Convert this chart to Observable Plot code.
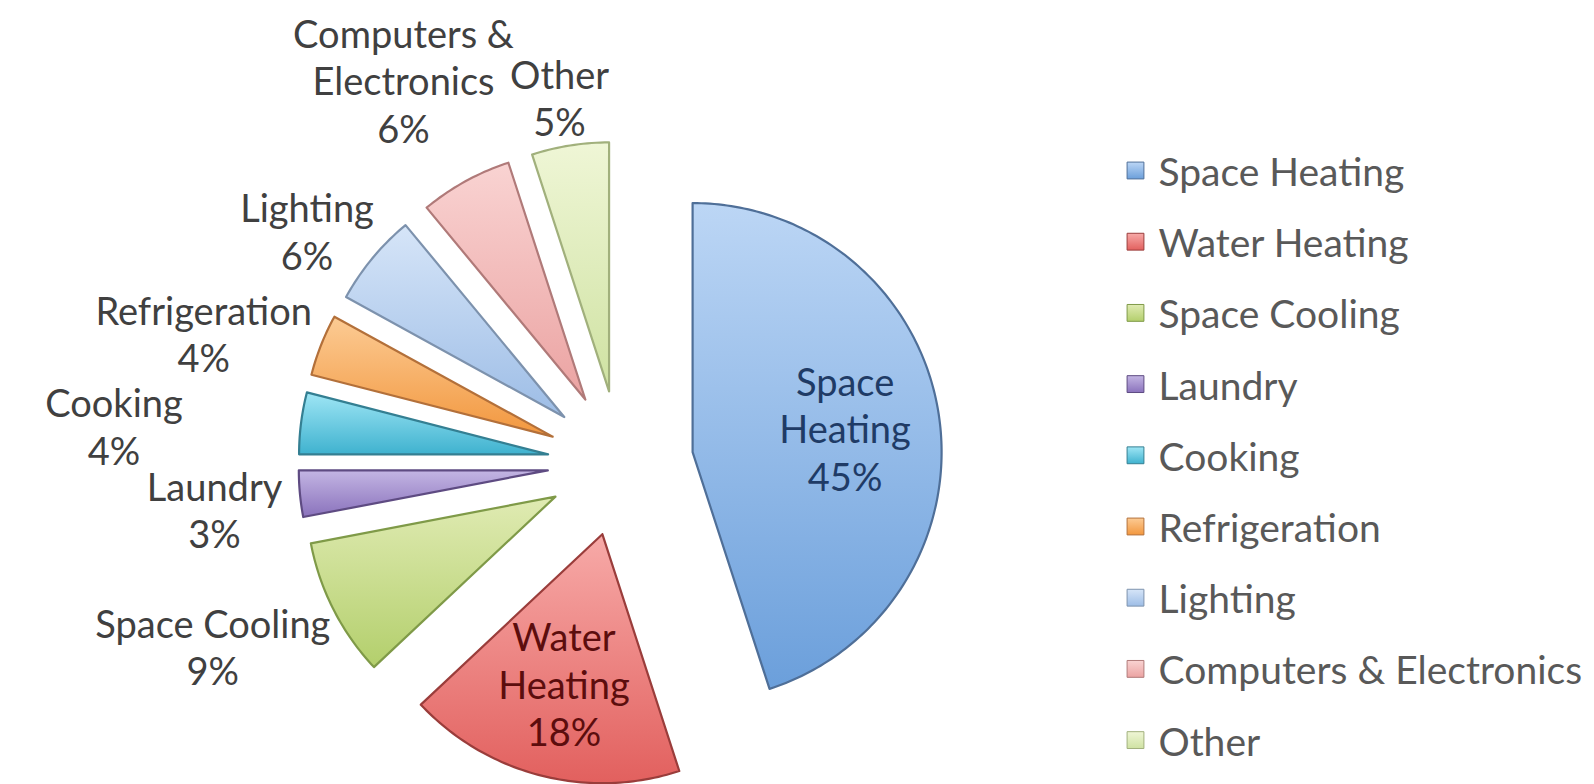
<!DOCTYPE html>
<html>
<head>
<meta charset="utf-8">
<script src="https://cdn.jsdelivr.net/npm/d3@7"></script>
<script src="https://cdn.jsdelivr.net/npm/@observablehq/plot@0.6"></script>
<style>
  html, body { margin: 0; padding: 0; background: #ffffff; }
  #chart { width: 1594px; height: 784px; }
</style>
</head>
<body>
<div id="chart"></div>
<script>
// ---- data ----
const categories = ["Space Heating", "Water Heating", "Space Cooling", "Laundry", "Cooking",
                    "Refrigeration", "Lighting", "Computers & Electronics", "Other"];
const shares = [45, 18, 9, 3, 4, 4, 6, 6, 5];

// ---- styles (gradient top, gradient bottom, outline, inside-label colour) ----
const gradTop    = ["#bcd6f5", "#f7aaa8", "#e0ebb3", "#c3b5e3", "#9fe6f5", "#fccb94", "#d6e5f8", "#f9d3d2", "#eff6d6"];
const gradBottom = ["#6b9fdb", "#e2605e", "#b3cf6c", "#8a72bc", "#3fb2cf", "#f2973e", "#9dbde6", "#eba3a2", "#cfe2a2"];
const outline    = ["#4f6f98", "#9a3d3b", "#7f9a48", "#5e4b82", "#347f92", "#b3703a", "#7d92ad", "#b07a79", "#a1b07c"];
const insideInk  = ["#1f3b66", "#5c0d0d"];

// ---- layout ----
const W = 1594, H = 784;
const cx = 620, cy = 463, R = 249, explode = 73;
const fontSize = 38, lineEm = 1.25, legendFont = 39;
const lh = fontSize * lineEm;
const fontFamily = "Lato, 'Open Sans', 'Noto Sans', sans-serif";
const legendX = 1135, legendTextX = 1158, legendTop = 173, legendStep = 71.2;
const pad = 6, labelGap = 18, labelDy = 10;

const arcs = d3.pie().sort(null).value(d => d)(shares);

// slice polygons
const slicePts = [];
arcs.forEach((a, i) => {
  const m = (a.startAngle + a.endAngle) / 2;
  const vx = cx + explode * Math.sin(m), vy = cy - explode * Math.cos(m);
  const n = Math.max(4, Math.ceil((a.endAngle - a.startAngle) / (Math.PI / 180)));
  const fill = `url(#grad${i})`, stroke = outline[i];
  slicePts.push({cat: categories[i], x: vx, y: vy, fill, stroke});
  for (let k = 0; k <= n; ++k) {
    const t = a.startAngle + (a.endAngle - a.startAngle) * k / n;
    slicePts.push({cat: categories[i], x: vx + R * Math.sin(t), y: vy - R * Math.cos(t), fill, stroke});
  }
  slicePts.push({cat: categories[i], x: vx, y: vy, fill, stroke});
});

// ---- labels ----
const ctx = document.createElement("canvas").getContext("2d");
ctx.font = `${fontSize}px Lato`;
const textW = t => ctx.measureText(t).width;

function wrap(name, max) {
  const words = name.split(" "), lines = [];
  let cur = "";
  for (const w of words) {
    const next = cur ? cur + " " + w : w;
    if (next.length > max && cur) { lines.push(cur); cur = w; } else cur = next;
  }
  if (cur) lines.push(cur);
  return lines;
}
function boxes(lab) {
  const n = lab.lines.length;
  return lab.lines.map((t, j) => {
    const w = textW(t), y = lab.y + (j - (n - 1) / 2) * lh;
    return {x0: lab.x - w / 2, x1: lab.x + w / 2, y0: y - 0.45 * fontSize, y1: y + 0.45 * fontSize};
  });
}
function hits(a, b) {
  for (const p of boxes(a)) for (const q of boxes(b))
    if (p.x0 < q.x1 + pad && q.x0 < p.x1 + pad && p.y0 < q.y1 + pad && q.y0 < p.y1 + pad) return true;
  return false;
}

const labels = arcs.map((a, i) => {
  const m = (a.startAngle + a.endAngle) / 2;
  const s = Math.sin(m), c = Math.cos(m);
  const pct = shares[i] + "%";
  if (shares[i] >= 10) {
    const vx = cx + explode * s, vy = cy - explode * c, r = 0.62 * R;
    const lines = categories[i].split(" ").concat([pct]);
    return {i, inside: true, x: vx + r * s, y: vy - r * c, lines, ink: insideInk[i]};
  }
  const lines = wrap(categories[i], 13).concat([pct]);
  const hw = d3.max(lines, textW) / 2;
  const hh = ((lines.length - 1) * lh + 0.9 * fontSize) / 2;
  const r0 = R + explode + labelGap;
  return {i, inside: false, s, c, x: cx + r0 * s + hw * s, y: cy - r0 * c - hh * c + labelDy, lines, ink: "#404040"};
});

// resolve overlaps: place smaller slices' labels first, push later ones outward
const placed = [];
labels.filter(d => !d.inside)
  .sort((a, b) => shares[a.i] - shares[b.i] || a.i - b.i)
  .forEach(lab => {
    const horiz = Math.abs(lab.s) > Math.abs(lab.c);
    const dx = horiz ? Math.sign(lab.s) : 0, dy = horiz ? 0 : -Math.sign(lab.c);
    let k = 0;
    while (k < 300 && placed.some(p => hits(lab, p))) { lab.x += dx; lab.y += dy; ++k; }
    placed.push(lab);
  });
labels.forEach(d => d.text = d.lines.join("\n"));

const legend = categories.map((name, i) => ({
  name, fill: `url(#grad${i})`, stroke: outline[i], y: legendTop + i * legendStep
}));

const svg = Plot.plot({
  width: W, height: H,
  margin: 0,
  x: {domain: [0, W], range: [0, W], axis: null},
  y: {domain: [0, H], range: [0, H], axis: null},
  color: {type: "identity"},
  style: {background: "#ffffff", fontFamily},
  marks: [
    Plot.line(slicePts, {x: "x", y: "y", z: "cat", fill: "fill", stroke: "stroke",
                         strokeWidth: 2.2, strokeLinejoin: "round", curve: "linear"}),
    Plot.text(labels, {x: "x", y: "y", text: "text", fill: "ink", fontSize,
                       lineHeight: lineEm, textAnchor: "middle", fontFamily}),
    Plot.dot(legend, {x: legendX, y: d => d.y - 3, symbol: "square", r: 9.5,
                      fill: "fill", stroke: "stroke", strokeWidth: 1}),
    Plot.text(legend, {x: legendTextX, y: "y", text: "name", textAnchor: "start",
                       fill: "#595959", fontSize: legendFont, fontFamily})
  ]
});

// gradient definitions for the slice fills
const defs = d3.select(svg).insert("defs", ":first-child");
categories.forEach((_, i) => {
  const g = defs.append("linearGradient").attr("id", `grad${i}`)
    .attr("x1", 0).attr("y1", 0).attr("x2", 0).attr("y2", 1);
  g.append("stop").attr("offset", "0%").attr("stop-color", gradTop[i]);
  g.append("stop").attr("offset", "100%").attr("stop-color", gradBottom[i]);
});

document.getElementById("chart").appendChild(svg);
</script>
</body>
</html>
